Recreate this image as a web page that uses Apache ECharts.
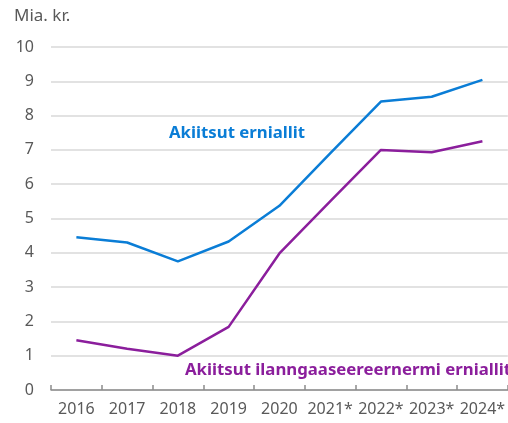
<!DOCTYPE html>
<html>
<head>
<meta charset="utf-8">
<script src="https://cdn.jsdelivr.net/npm/echarts@6/dist/echarts.min.js"></script>
<style>
  html, body { margin: 0; padding: 0; background: #fff; }
  #chart { width: 508px; height: 423px; }
</style>
</head>
<body>
<div id="chart"></div>
<script>
const years = ['2016', '2017', '2018', '2019', '2020', '2021*', '2022*', '2023*', '2024*'];
const akiitsut = [4.45, 4.3, 3.75, 4.33, 5.37, 6.9, 8.41, 8.55, 9.04];
const ilanngaaseereernermi = [1.45, 1.2, 1.0, 1.84, 3.98, 5.5, 7.0, 6.93, 7.25];
const yTicks = [0, 10, 1]; // min, max, interval

const font = 'Noto Sans';
const grey = '#595959';

const chart = echarts.init(document.getElementById('chart'));

chart.setOption({
  animation: false,
  grid: { left: 51, top: 47, width: 459, bottom: 33 },
  xAxis: {
    type: 'category',
    data: years,
    boundaryGap: true,
    axisLine: { lineStyle: { color: '#8c8c8c', width: 1.5 } },
    axisTick: { show: true, inside: true, length: 5, lineStyle: { color: '#8c8c8c', width: 1.5 } },
    axisLabel: { color: grey, fontSize: 16, fontFamily: font, margin: 11, interval: 0 }
  },
  yAxis: {
    type: 'value',
    min: yTicks[0],
    max: yTicks[1],
    interval: yTicks[2],
    name: 'Mia. kr.',
    nameLocation: 'end',
    nameGap: 22,
    nameTextStyle: { color: grey, fontSize: 17, fontFamily: font, align: 'left', padding: [0, 0, 0, -37] },
    axisLine: { show: false },
    axisTick: { show: false },
    axisLabel: { color: grey, fontSize: 16, fontFamily: font, margin: 17 },
    splitLine: { lineStyle: { color: '#d9d9d9', width: 1.5 } }
  },
  series: [
    {
      name: 'Akiitsut erniallit',
      type: 'line',
      data: akiitsut,
      symbol: 'none',
      lineStyle: { color: '#0a7dd6', width: 2.5 }
    },
    {
      name: 'Akiitsut ilanngaaseereernermi erniallit',
      type: 'line',
      data: ilanngaaseereernermi,
      symbol: 'none',
      lineStyle: { color: '#8b1e9c', width: 2.5 }
    }
  ],
  graphic: [
    {
      type: 'text', left: 169, top: 125,
      style: { text: 'Akiitsut erniallit', fill: '#0a7dd6', font: 'bold 16.8px "Noto Sans"' }
    },
    {
      type: 'text', left: 185, top: 362,
      style: { text: 'Akiitsut ilanngaaseereernermi erniallit', fill: '#8b1e9c', font: 'bold 16.8px "Noto Sans"' }
    }
  ]
});
</script>
</body>
</html>
